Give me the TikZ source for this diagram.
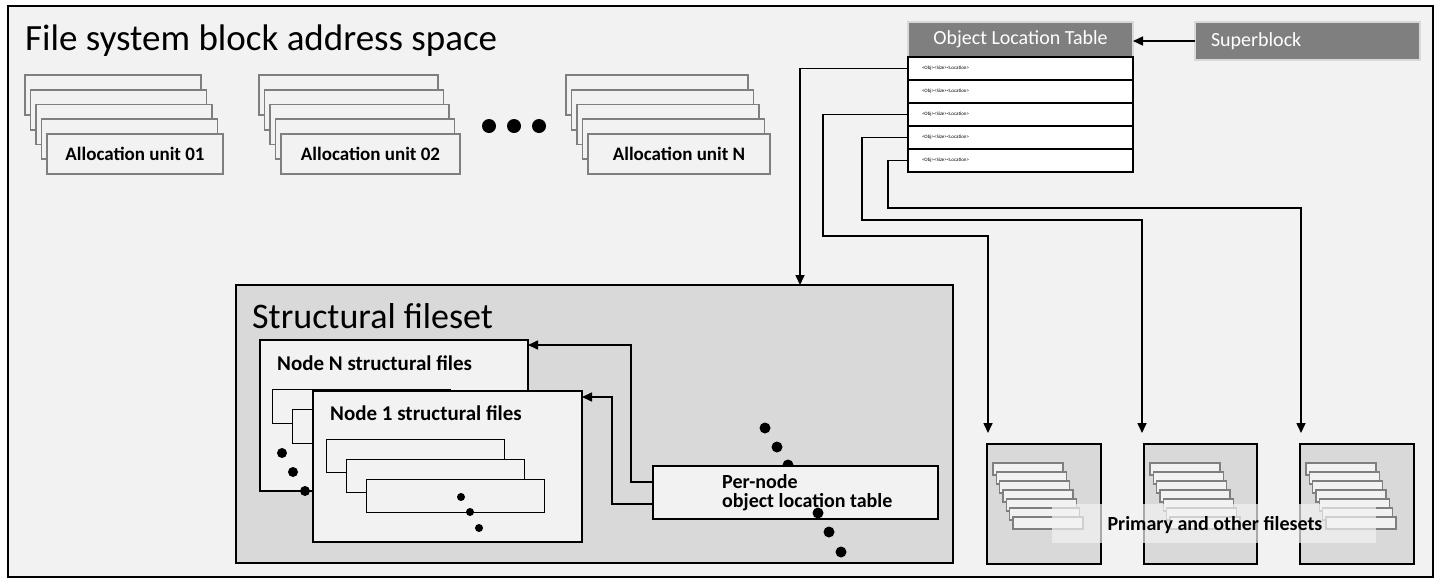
\documentclass[tikz,border=0pt]{standalone}
\usepackage{fontspec}
\setmainfont{Carlito}
\usetikzlibrary{arrows.meta,calc}
\definecolor{bgc}{HTML}{F2F2F2}
\definecolor{midg}{HTML}{D9D9D9}
\definecolor{darkg}{HTML}{7F7F7F}
\begin{document}
\begin{tikzpicture}[x=1pt,y=-1pt,
  rect/.style={anchor=north west, inner sep=0pt, outer sep=0pt},
  aurect/.style={rect, draw=darkg, line width=1.6pt, fill=bgc, minimum height=40pt,
    font=\bfseries\fontsize{19}{22}\selectfont},
  hdr/.style={rect, fill=darkg, draw=midg, line width=2.5pt, text=white,
    font=\fontsize{20}{24}\selectfont},
  rowbox/.style={rect, draw, line width=1.8pt, fill=white, minimum width=225pt,
    minimum height=23pt, text width=197pt, align=left, inner xsep=14pt,
    font=\fontsize{5}{6}\selectfont},
  bigbox/.style={rect, draw, line width=1.8pt, fill=midg},
  nodebox/.style={rect, draw, line width=1.5pt, fill=bgc},
  inrect/.style={rect, draw, line width=0.9pt, fill=bgc, minimum width=178pt, minimum height=34pt},
  fsrect/.style={rect, draw=darkg, line width=1.4pt, fill=bgc, minimum width=70pt, minimum height=12pt},
  lbl/.style={anchor=base west, inner sep=0pt, font=\bfseries\fontsize{20}{24}\selectfont},
  arr/.style={draw, line width=1.6pt, -{Triangle[length=10pt,width=9pt]}},
  dot/.style={fill=black}
]
\useasboundingbox (0,0) rectangle (1441,582);
\fill[white] (0,0) rectangle (1441,582);

% outer frame
\node[rect, draw, line width=2pt, fill=bgc, minimum width=1425pt, minimum height=571pt] (frame) at (8,6) {};
\node[anchor=base west, inner sep=0pt, font=\fontsize{37}{42}\selectfont] (title) at (25,50) {File system block address space};

% allocation units
\foreach \sx/\w/\nm/\lab in {25/176/au1/Allocation unit 01, 259/179/au2/Allocation unit 02, 566/182/auN/Allocation unit N} {
  \foreach \i in {0,...,3}
    \node[aurect, minimum width=\w pt] at (\sx+5.5*\i, 75+14.75*\i) {};
  \node[aurect, minimum width=\w pt] (\nm) at (\sx+22, 134) {\lab};
}
\foreach \x in {489,514,539} \fill[dot] (\x,126) circle[radius=7pt];

% object location table
\node[hdr, minimum width=225pt, minimum height=35pt] (olt) at (908,22) {Object Location Table};
\node[hdr, minimum width=225pt, minimum height=38pt, text width=193pt, align=left, inner xsep=16pt] (sb) at (1195,22) {Superblock};
\foreach \i in {1,...,5}
  \node[rowbox] (r\i) at (908, 57+23*\i-23) {<Obj><Size><Location>};
\draw[arr] (sb.west) -- (sb.west -| olt.east);

% structural fileset
\node[bigbox, minimum width=717pt, minimum height=278pt] (sf) at (236,285) {};
\node[anchor=base west, inner sep=0pt, font=\fontsize{36}{40}\selectfont] (sft) at (252,328) {Structural fileset};

\node[nodebox, minimum width=268pt, minimum height=151pt] (nN) at (260,340) {};
\node[lbl, font=\bfseries\fontsize{21}{24}\selectfont] (nNt) at (277,370) {Node N structural files};
\foreach \i in {0,1,2} \node[inrect] at (272+20*\i, 389+20*\i) {};
\foreach \x/\y in {282/453, 293/472, 305/491} \fill[dot] (\x,\y) circle[radius=5pt];

\node[nodebox, minimum width=269pt, minimum height=151pt] (n1) at (313,391) {};
\node[lbl, font=\bfseries\fontsize{21}{24}\selectfont] (n1t) at (330,420) {Node 1 structural files};
\foreach \i in {0,1,2} \node[inrect, minimum height=33pt] at (326+20*\i, 439+20*\i) {};
\foreach \x/\y in {461/497, 470/512, 479/528} \fill[dot] (\x,\y) circle[radius=4pt];

\foreach \x/\y in {765/428, 777/447, 788/465} \fill[dot] (\x,\y) circle[radius=5.5pt];
\node[rect, draw, line width=1.2pt, fill=bgc, minimum width=285pt, minimum height=53pt] (pn) at (653,466) {};
\node[lbl] (pnt1) at (722,488) {Per-node};
\node[lbl] (pnt2) at (722,507) {object location table};
\foreach \x/\y in {818/513, 829/532, 841/552} \fill[dot] (\x,\y) circle[radius=5.5pt];

\draw[arr] ([yshift=10.5pt]pn.west) -- ++(-22,0) |- ([yshift=-5pt]nN.north east);
\draw[arr] ([yshift=-11.5pt]pn.west) -- ++(-41,0) |- ([yshift=-6pt]n1.north east);

% filesets
\node[bigbox, minimum width=114pt, minimum height=120pt] (fs1) at (987,444) {};
\node[bigbox, minimum width=113pt, minimum height=120pt] (fs2) at (1144,444) {};
\node[bigbox, minimum width=114pt, minimum height=120pt] (fs3) at (1300,444) {};
\foreach \bx in {987,1144,1300}
  \foreach \i in {0,...,6}
    \node[fsrect] at (\bx+6+3.33*\i, 463+9*\i) {};
\node[rect, fill=bgc, fill opacity=0.7, minimum width=324pt, minimum height=39pt] (band) at (1052,504) {};
\node[lbl, anchor=base] (pf) at (1215,530) {Primary and other filesets};

% connectors from the object location table
\draw[arr] (r1.west) -| ([xshift=205.5pt]sf.north);
\draw[arr, shorten >=11pt] (r3.west) -| (823,236) -| ([xshift=1pt]fs1.north west);
\draw[arr, shorten >=11pt] (r4.west) -| (862,220) -| ([xshift=-2pt]fs2.north west);
\draw[arr, shorten >=11pt] (r5.west) -| (888,208) -| ([xshift=1pt]fs3.north west);
\end{tikzpicture}
\end{document}
